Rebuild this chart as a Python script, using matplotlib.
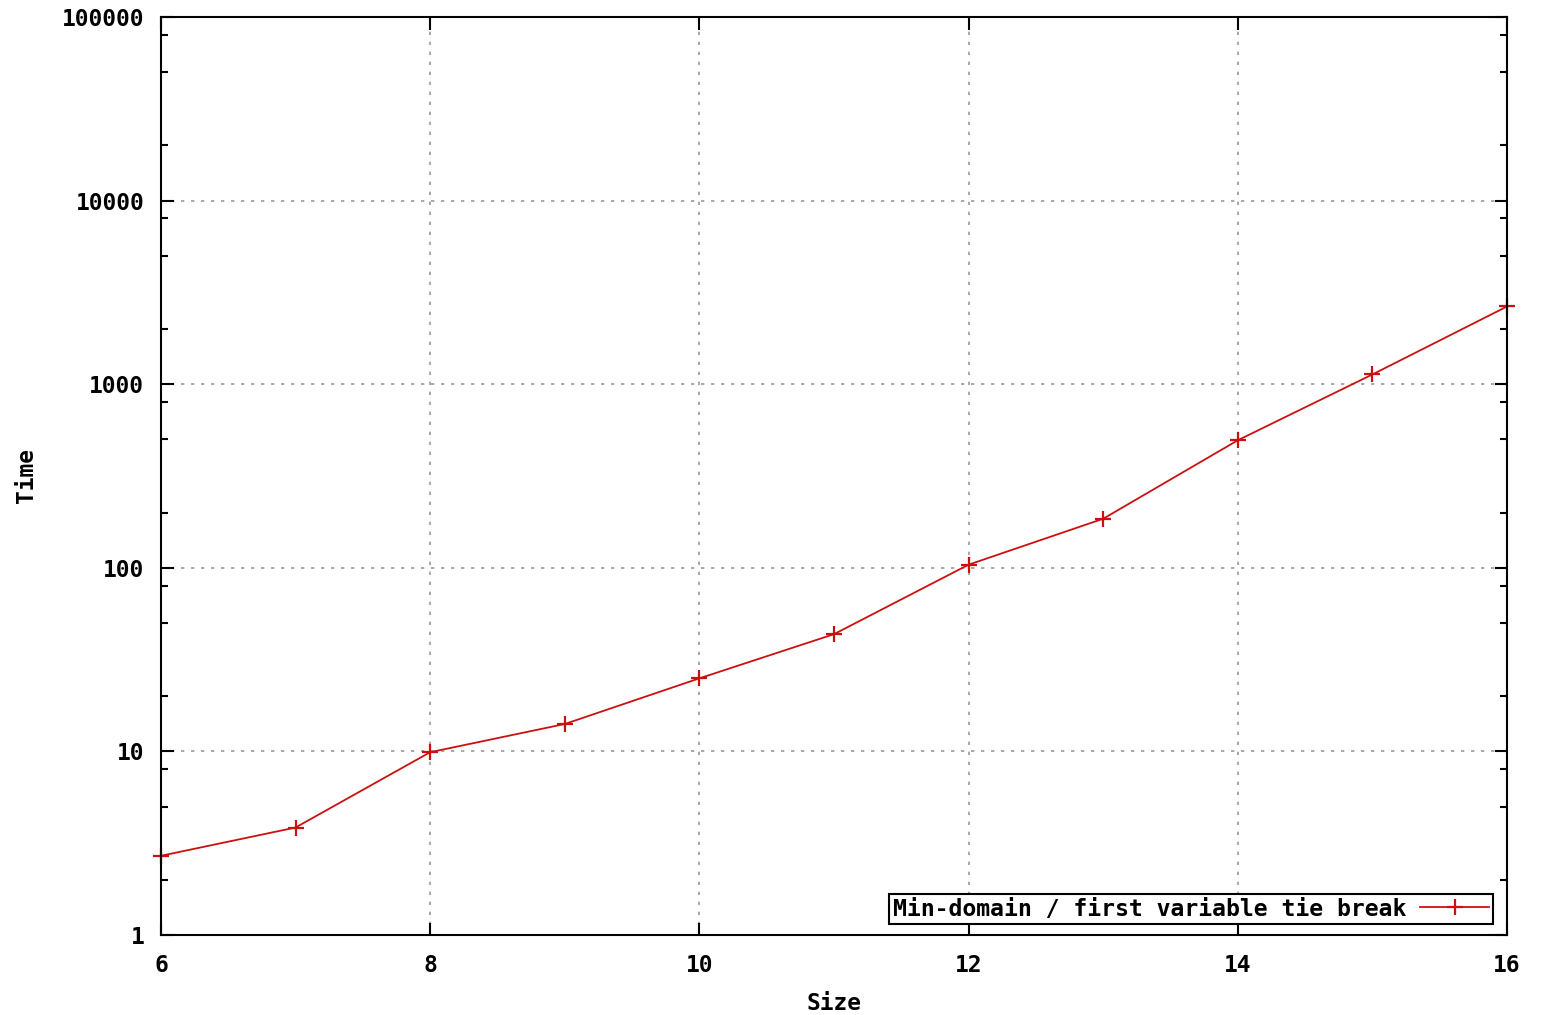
import matplotlib
matplotlib.use("Agg")
import matplotlib.pyplot as plt
from matplotlib.ticker import FixedLocator, NullFormatter

# data
sizes = [6, 7, 8, 9, 10, 11, 12, 13, 14, 15, 16]
times = [2.7, 3.85, 9.9, 14.1, 25, 43.5, 104, 185, 495, 1130, 2650]
series_label = "Min-domain / first variable tie break"

y_major = [1, 10, 100, 1000, 10000, 100000]
y_labels = ["1", "10", "100", "1000", "10000", "100000"]
x_major = [6, 8, 10, 12, 14, 16]

plt.rcParams["font.family"] = ["DejaVu Sans Mono"]
plt.rcParams["font.weight"] = "bold"

fig = plt.figure(figsize=(15.43, 10.15), dpi=100)
ax = fig.add_axes([0.1043, 0.0788, 0.8724, 0.9045])

ax.plot(sizes, times, color="#cc1010", lw=1.3, marker="+", ms=12, mew=1.6,
        label=series_label, clip_on=False)

ax.set_yscale("log")
ax.set_xlim(6, 16)
ax.set_ylim(1, 100000)

ax.yaxis.set_major_locator(FixedLocator(y_major))
ax.set_yticks(y_major)
ax.set_yticklabels(y_labels)
minor = [m * 10 ** d for d in range(0, 5) for m in (2, 5, 8)]
ax.yaxis.set_minor_locator(FixedLocator(minor))
ax.yaxis.set_minor_formatter(NullFormatter())
ax.set_xticks(x_major)
ax.set_xticklabels([str(v) for v in x_major])

ax.tick_params(axis="both", which="both", direction="in", top=True, right=True,
               width=1.5, color="black", labelsize=16.5)
ax.tick_params(axis="both", which="major", length=9)
ax.tick_params(axis="both", which="minor", length=5)
ax.tick_params(axis="y", pad=12)
ax.tick_params(axis="x", pad=14)

ax.grid(True, which="major", color="#999999", ls=(0, (2, 4)), lw=1.2)

for s in ax.spines.values():
    s.set_linewidth(1.5)

ax.set_xlabel("Size", fontsize=16.5, fontweight="bold")
ax.xaxis.set_label_coords(0.5, -0.062)
ax.set_ylabel("Time", fontsize=16.5, fontweight="bold")
ax.yaxis.set_label_coords(-0.091, 0.5)

leg = ax.legend(loc="lower right", bbox_to_anchor=(0.9895, 0.012), fontsize=16.7,
                frameon=True, fancybox=False, edgecolor="black", framealpha=1,
                markerfirst=False, handlelength=3.0, borderpad=0.15,
                handletextpad=0.6, borderaxespad=0)
leg.get_frame().set_linewidth(1.5)

fig.savefig("out.png", dpi=100)
plt.close(fig)
